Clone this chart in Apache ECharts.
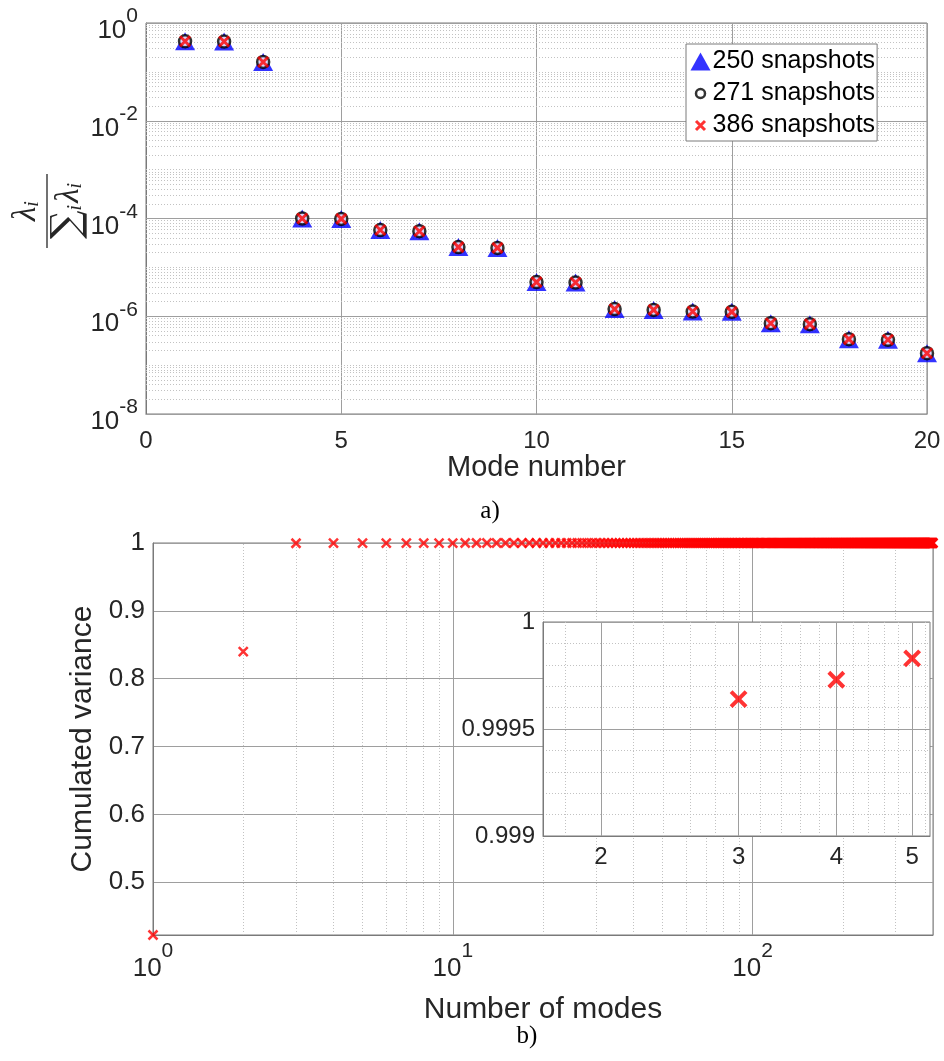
<!DOCTYPE html>
<html>
<head>
<meta charset="utf-8">
<title>POD eigenvalues and cumulated variance</title>
<script src="https://cdn.jsdelivr.net/npm/echarts@6/dist/echarts.min.js"></script>
<style>
  html, body { margin: 0; padding: 0; background: #fff; }
  #chart { width: 944px; height: 1061px; }
</style>
</head>
<body>
<div id="chart"></div>
<script>
// ---- a) normalised eigenvalues lambda_i / sum(lambda)
const modes = [1, 2, 3, 4, 5, 6, 7, 8, 9, 10, 11, 12, 13, 14, 15, 16, 17, 18, 19, 20];
const eig250 = [0.4223, 0.4175, 0.1597, 1.0e-4, 9.8e-5, 5.8e-5, 5.5e-5, 2.6e-5, 2.5e-5, 5.0e-6,
  4.9e-6, 1.4e-6, 1.35e-6, 1.25e-6, 1.23e-6, 7.2e-7, 6.9e-7, 3.4e-7, 3.3e-7, 1.75e-7];
const eig271 = [0.4223, 0.4175, 0.1597, 1.0e-4, 9.8e-5, 5.8e-5, 5.5e-5, 2.6e-5, 2.5e-5, 5.0e-6,
  4.9e-6, 1.4e-6, 1.35e-6, 1.25e-6, 1.23e-6, 7.2e-7, 6.9e-7, 3.4e-7, 3.3e-7, 1.75e-7];
const eig386 = [0.4223, 0.4175, 0.1597, 1.0e-4, 9.8e-5, 5.8e-5, 5.5e-5, 2.6e-5, 2.5e-5, 5.0e-6,
  4.9e-6, 1.4e-6, 1.35e-6, 1.25e-6, 1.23e-6, 7.2e-7, 6.9e-7, 3.4e-7, 3.3e-7, 1.75e-7];
const legendNames = ['250 snapshots', '271 snapshots', '386 snapshots'];

// ---- b) cumulated variance vs number of modes (modes 1..400)
const cumHead = [0.4223, 0.8398, 0.99964, 0.99973, 0.99983, 0.99988, 0.99993, 0.99996, 0.99998, 0.999985,
  0.99999, 0.999992, 0.999993, 0.999995, 0.999996, 0.999997, 0.999998, 0.999998, 0.999999, 0.999999];
// modes 21..400 all sit on 1 at this scale
const cumTail = [
  1,1,1,1,1,1,1,1,1,1, 1,1,1,1,1,1,1,1,1,1,
  1,1,1,1,1,1,1,1,1,1, 1,1,1,1,1,1,1,1,1,1,
  1,1,1,1,1,1,1,1,1,1, 1,1,1,1,1,1,1,1,1,1,
  1,1,1,1,1,1,1,1,1,1, 1,1,1,1,1,1,1,1,1,1,
  1,1,1,1,1,1,1,1,1,1, 1,1,1,1,1,1,1,1,1,1,
  1,1,1,1,1,1,1,1,1,1, 1,1,1,1,1,1,1,1,1,1,
  1,1,1,1,1,1,1,1,1,1, 1,1,1,1,1,1,1,1,1,1,
  1,1,1,1,1,1,1,1,1,1, 1,1,1,1,1,1,1,1,1,1,
  1,1,1,1,1,1,1,1,1,1, 1,1,1,1,1,1,1,1,1,1,
  1,1,1,1,1,1,1,1,1,1, 1,1,1,1,1,1,1,1,1,1,
  1,1,1,1,1,1,1,1,1,1, 1,1,1,1,1,1,1,1,1,1,
  1,1,1,1,1,1,1,1,1,1, 1,1,1,1,1,1,1,1,1,1,
  1,1,1,1,1,1,1,1,1,1, 1,1,1,1,1,1,1,1,1,1,
  1,1,1,1,1,1,1,1,1,1, 1,1,1,1,1,1,1,1,1,1,
  1,1,1,1,1,1,1,1,1,1, 1,1,1,1,1,1,1,1,1,1,
  1,1,1,1,1,1,1,1,1,1, 1,1,1,1,1,1,1,1,1,1,
  1,1,1,1,1,1,1,1,1,1, 1,1,1,1,1,1,1,1,1,1,
  1,1,1,1,1,1,1,1,1,1, 1,1,1,1,1,1,1,1,1,1,
  1,1,1,1,1,1,1,1,1,1, 1,1,1,1,1,1,1,1,1,1
];
const insetTicks = [2, 3, 4, 5];
const insetMinor = [1.8, 2.2, 2.4, 2.6, 2.8, 3.2, 3.4, 3.6, 3.8, 4.2, 4.4, 4.6, 4.8, 5.2];
const bottomMinor = [2, 3, 4, 5, 6, 7, 8, 9, 20, 30, 40, 50, 60, 70, 80, 90, 200, 300];

// ---- styles
const FONT = '"Liberation Sans", Arial, Helvetica, sans-serif';
const SERIF = '"Liberation Serif", "DejaVu Serif", serif';
const TXT = '#262626';
const BOX = '#7a7a7a';
const MAJOR = { color: '#9e9e9e', width: 1, type: 'solid' };
const MINOR = { color: '#c2c2c2', width: 1, type: [1, 2] };
const crossPath = 'path://M0,0L10,10M10,0L0,10';

const eigData = function (vals) {
  return modes.map(function (m, i) { return [m, vals[i]]; });
};
const cumVar = cumHead.concat(cumTail);
const cumData = cumVar.map(function (v, i) { return [i + 1, v]; });

// top plot horizontal grid: solid at even decades, dotted elsewhere
const topGridLines = [];
for (let e = -8; e <= 0; e++) {
  for (let k = 1; k <= 9; k++) {
    if (e === 0 && k > 1) break;
    const major = k === 1 && e % 2 === 0;
    topGridLines.push({ yAxis: k * Math.pow(10, e), lineStyle: major ? MAJOR : MINOR });
  }
}

function powLabel(v) {
  const e = Math.log10(v);
  if (Math.abs(e - Math.round(e)) > 1e-6) return '';
  return '{b|10}{s|' + Math.round(e) + '}';
}
// only every second decade is labelled on the top plot
function evenPowLabel(v) {
  const e = Math.round(Math.log10(v));
  return e % 2 === 0 ? powLabel(v) : '';
}

function gridMarkLine(list, axisKey, zlevel) {
  return {
    silent: true, symbol: ['none', 'none'], label: { show: false },
    animation: false, z: 1, zlevel: zlevel || 0, precision: 12,
    lineStyle: MINOR,
    data: list.map(function (v) { const o = {}; o[axisKey] = v; return o; })
  };
}

const chart = echarts.init(document.getElementById('chart'));
chart.setOption({
  animation: false,
  textStyle: { fontFamily: FONT, color: TXT },
  grid: [
    { left: 146, top: 23, right: 17, height: 391, show: true, borderColor: BOX, borderWidth: 1 },
    { left: 153, top: 543, right: 11, height: 392, show: true, borderColor: BOX, borderWidth: 1 },
    { left: 543, top: 622, width: 387, height: 214, show: true, borderColor: BOX, borderWidth: 1,
      backgroundColor: '#fff', zlevel: 1 }
  ],
  xAxis: [
    {
      gridIndex: 0, type: 'value', min: 0, max: 20, interval: 5,
      name: 'Mode number', nameLocation: 'middle', nameGap: 34,
      nameTextStyle: { fontSize: 29, color: TXT, fontFamily: FONT },
      axisLine: { lineStyle: { color: BOX } }, axisTick: { show: false },
      axisLabel: { fontSize: 24, color: TXT, margin: 15, fontFamily: FONT },
      splitLine: { show: true, lineStyle: MAJOR }
    },
    {
      gridIndex: 1, type: 'log', logBase: 10, min: 1, max: 400,
      name: 'Number of modes', nameLocation: 'middle', nameGap: 60,
      nameTextStyle: { fontSize: 30, color: TXT, fontFamily: FONT },
      axisLine: { lineStyle: { color: BOX } }, axisTick: { show: false },
      axisLabel: {
        margin: 6, formatter: powLabel,
        rich: {
          b: { fontSize: 26, color: TXT, fontFamily: FONT },
          s: { fontSize: 21, color: TXT, fontFamily: FONT, padding: [0, 0, 34, 0] }
        }
      },
      splitLine: { show: true, lineStyle: MAJOR }
    },
    {
      gridIndex: 2, type: 'log', logBase: 10, min: 1.687, max: 5.27, zlevel: 1,
      axisLine: { lineStyle: { color: BOX } },
      axisTick: { show: false, customValues: insetTicks },
      axisLabel: { customValues: insetTicks, fontSize: 24, color: TXT, margin: 9, fontFamily: FONT },
      splitLine: { show: true, lineStyle: MAJOR }
    }
  ],
  yAxis: [
    {
      gridIndex: 0, type: 'log', logBase: 10, min: 1e-8, max: 1,
      axisLine: { lineStyle: { color: BOX } }, axisTick: { show: false },
      axisLabel: {
        margin: 8, formatter: evenPowLabel,
        rich: {
          b: { fontSize: 26, color: TXT, fontFamily: FONT, padding: [16, 0, 0, 0] },
          s: { fontSize: 21, color: TXT, fontFamily: FONT, padding: [0, 0, 13, 0] }
        }
      },
      splitLine: { show: false }
    },
    {
      gridIndex: 1, type: 'value', min: 0.4223, max: 1,
      name: 'Cumulated variance', nameLocation: 'middle', nameGap: 53,
      nameTextStyle: { fontSize: 30, color: TXT, fontFamily: FONT },
      axisLine: { lineStyle: { color: BOX } }, axisTick: { show: false },
      axisLabel: {
        fontSize: 26, color: TXT, margin: 8, fontFamily: FONT,
        formatter: function (v) {
          const r = Math.round(v * 10) / 10;
          return Math.abs(v - r) < 1e-6 ? String(r) : '';
        }
      },
      splitLine: { show: true, lineStyle: MAJOR }
    },
    {
      gridIndex: 2, type: 'value', min: 0.999, max: 1, interval: 0.0005, zlevel: 1,
      axisLine: { lineStyle: { color: BOX } }, axisTick: { show: false },
      minorTick: { show: false, splitNumber: 5 },
      minorSplitLine: { show: true, lineStyle: MINOR },
      axisLabel: { fontSize: 24, color: TXT, margin: 8, fontFamily: FONT },
      splitLine: { show: true, lineStyle: MAJOR }
    }
  ],
  legend: {
    orient: 'vertical', left: 686, top: 44, z: 10,
    padding: [5, 2, 3, 3], itemGap: 7, itemWidth: 20, itemHeight: 18,
    backgroundColor: '#fff', borderColor: BOX, borderWidth: 1, borderRadius: 0,
    textStyle: { fontSize: 25, color: '#000', fontFamily: FONT, padding: [0, 0, 0, -3] },
    data: [
      { name: legendNames[0], icon: 'triangle', itemStyle: { color: '#0000ff', borderWidth: 0 } },
      { name: legendNames[1],
        icon: 'path://M-10,-10M10,10M-5,0A5,5,0,1,1,5,0A5,5,0,1,1,-5,0Z',
        itemStyle: { color: '#fff', borderColor: '#000', borderWidth: 2.5 } },
      { name: legendNames[2], icon: 'path://M-10,-10M10,10M-5,-5L5,5M5,-5L-5,5',
        itemStyle: { color: 'none', borderColor: '#ff0000', borderWidth: 3 } }
    ]
  },
  series: [
    {
      name: legendNames[0], type: 'scatter', xAxisIndex: 0, yAxisIndex: 0, z: 2,
      symbol: 'triangle', symbolSize: [20, 18], data: eigData(eig250),
      itemStyle: { color: '#0000ff' },
      markLine: {
        silent: true, symbol: ['none', 'none'], label: { show: false }, animation: false, z: 1,
        precision: 12, data: topGridLines
      }
    },
    {
      name: legendNames[1], type: 'scatter', xAxisIndex: 0, yAxisIndex: 0, z: 3,
      symbol: 'circle', symbolSize: 12, data: eigData(eig271),
      itemStyle: { color: '#fff', borderColor: '#000', borderWidth: 2.5 }
    },
    {
      name: legendNames[2], type: 'scatter', xAxisIndex: 0, yAxisIndex: 0, z: 4,
      symbol: crossPath, symbolSize: 10, data: eigData(eig386),
      itemStyle: { color: '#ff0000', borderColor: '#ff0000', borderWidth: 3 }
    },
    {
      name: 'cumulated', type: 'scatter', xAxisIndex: 1, yAxisIndex: 1, z: 3,
      symbol: crossPath, symbolSize: 9, data: cumData,
      itemStyle: { color: '#ff0000', borderColor: '#ff0000', borderWidth: 2.5 },
      markLine: gridMarkLine(bottomMinor, 'xAxis', 0)
    },
    {
      name: 'cumulated inset', type: 'scatter', xAxisIndex: 2, yAxisIndex: 2, z: 3, zlevel: 1,
      clip: true, symbol: crossPath, symbolSize: 15, data: cumData,
      itemStyle: { color: '#ff0000', borderColor: '#ff0000', borderWidth: 4 },
      markLine: gridMarkLine(insetMinor, 'xAxis', 1)
    }
  ],
  graphic: [
    {
      type: 'group', x: 47, y: 211, rotation: Math.PI / 2,
      children: [
        { type: 'line', shape: { x1: -37, y1: 0, x2: 37, y2: 0 }, style: { stroke: TXT, lineWidth: 1.3 } },
        {
          type: 'text', x: 0, y: -21,
          style: {
            text: '{l|λ}{i|i}', align: 'center', verticalAlign: 'middle',
            rich: {
              l: { fontSize: 33, fontStyle: 'italic', fontFamily: SERIF, fill: TXT },
              i: { fontSize: 20, fontStyle: 'italic', fontFamily: SERIF, fill: TXT, padding: [14, 0, 0, 0] }
            }
          }
        },
        {
          type: 'text', x: 0, y: 22,
          style: {
            text: '{S|∑}{i|i}{l|λ}{i|i}', align: 'center', verticalAlign: 'middle',
            rich: {
              S: { fontSize: 40, fontFamily: '"DejaVu Serif", serif', fill: TXT },
              l: { fontSize: 33, fontStyle: 'italic', fontFamily: SERIF, fill: TXT, padding: [0, 0, 0, 2] },
              i: { fontSize: 20, fontStyle: 'italic', fontFamily: SERIF, fill: TXT, padding: [14, 0, 0, 0] }
            }
          }
        }
      ]
    },
    {
      type: 'text', x: 490, y: 511,
      style: { text: 'a)', fontSize: 25, fontFamily: SERIF, fill: '#000', align: 'center', verticalAlign: 'middle' }
    },
    {
      type: 'text', x: 527, y: 1036,
      style: { text: 'b)', fontSize: 25, fontFamily: SERIF, fill: '#000', align: 'center', verticalAlign: 'middle' }
    }
  ]
});
</script>
</body>
</html>
